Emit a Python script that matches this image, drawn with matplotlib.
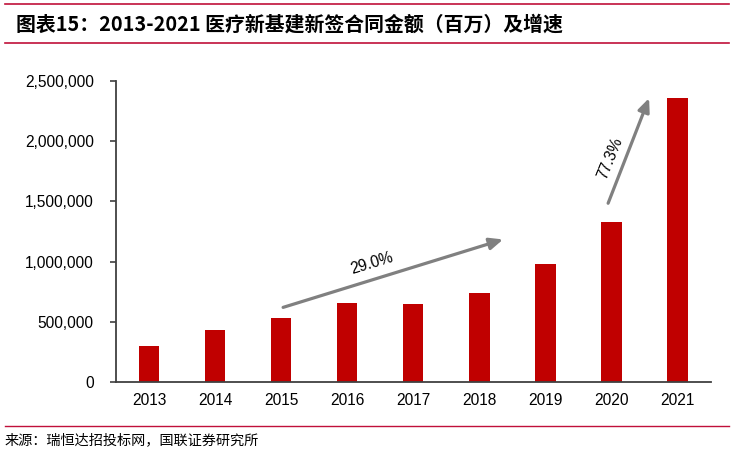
import matplotlib
matplotlib.use("Agg")
import matplotlib.pyplot as plt
from matplotlib.ticker import FuncFormatter, MultipleLocator

plt.rcParams['font.family'] = ['Liberation Sans', 'Noto Sans CJK SC', 'DejaVu Sans']

years = ["2013", "2014", "2015", "2016", "2017", "2018", "2019", "2020", "2021"]
amount = [300000, 433000, 533000, 656000, 650000, 739000, 978000, 1325000, 2356000]

# growth arrows: (start x, start y), (end x, end y), label
arrow_from = [(2.03, 620000), (6.95, 1483000)]
arrow_to = [(5.36, 1183000), (7.57, 2354000)]
arrow_text = ["29.0%", "77.3%"]
text_pos = [(3.38, 985000), (6.98, 1860000)]
text_rot = [17, 68]

red = "#C00000"
line_red = "#C0103A"

fig = plt.figure(figsize=(7.34, 4.55), dpi=100)
ax = fig.add_axes([0.158, 0.16, 0.810, 0.663])

x = range(len(years))
ax.bar(x, amount, width=0.31, color=red, zorder=2)

ax.set_xlim(-0.5, len(years) - 0.5)
ax.set_ylim(0, 2500000)
ax.yaxis.set_major_locator(MultipleLocator(500000))
ax.yaxis.set_major_formatter(FuncFormatter(lambda v, p: "{:,.0f}".format(v)))
ax.set_xticks(list(x))
ax.set_xticklabels(years)

for s in ["top", "right"]:
    ax.spines[s].set_visible(False)
for s in ["left", "bottom"]:
    ax.spines[s].set_color("#404040")
    ax.spines[s].set_linewidth(1.3)
ax.tick_params(axis="y", direction="out", length=4, width=1.2, color="#404040", labelsize=11.2, pad=12)
ax.tick_params(axis="x", length=0, labelsize=11.2, pad=8)

for a, b, t, tp, r in zip(arrow_from, arrow_to, arrow_text, text_pos, text_rot):
    ax.annotate("", xy=b, xytext=a,
                arrowprops=dict(arrowstyle="-|>,head_length=0.8,head_width=0.35",
                                color="#808080", lw=2.3, shrinkA=0, shrinkB=0))
    ax.text(tp[0], tp[1], t, rotation=r, fontsize=11.2, ha="center", va="center")

# header and footer rules
fig.add_artist(plt.Line2D([0.007, 0.993], [1 - 3.5 / 455, 1 - 3.5 / 455], color=line_red, lw=1.2))
fig.add_artist(plt.Line2D([0.007, 0.993], [1 - 42.5 / 455, 1 - 42.5 / 455], color=line_red, lw=1.2))
fig.add_artist(plt.Line2D([0.007, 0.993], [1 - 425.5 / 455, 1 - 425.5 / 455], color=line_red, lw=1.0))

fig.text(0.022, 1 - 24 / 455, "图表15：2013-2021 医疗新基建新签合同金额（百万）及增速",
         fontsize=14.3, fontweight="bold", fontstyle="italic", va="center", ha="left",
         family=['Noto Sans CJK SC', 'DejaVu Sans'])
fig.text(0.006, 1 - 440 / 455, "来源：瑞恒达招投标网，国联证券研究所",
         fontsize=10.2, va="center", ha="left", family=['Noto Sans CJK SC', 'DejaVu Sans'])

fig.savefig("out.png", dpi=100)
